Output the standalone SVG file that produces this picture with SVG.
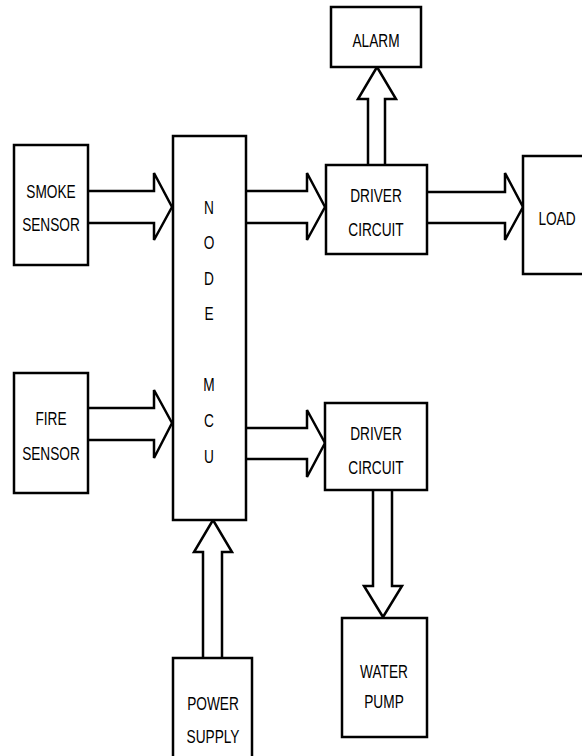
<svg xmlns="http://www.w3.org/2000/svg" width="582" height="756" viewBox="0 0 582 756">
<style>
.box{fill:#fff;stroke:#000;stroke-width:2.5}
.arr{fill:#fff;stroke:#000;stroke-width:2.5;stroke-linejoin:miter}
text{font-family:"Liberation Sans",Arial,sans-serif;font-size:19px;fill:#000;text-anchor:middle}
</style>
<rect width="582" height="756" fill="#fff"/>
<g id="connectors">
<path class="arr" d="M88,191 H154 V173 L172,207 L154,240 V223 H88"/>
<path class="arr" d="M88,408 H154 V390 L172,423 L154,458 V440 H88"/>
<path class="arr" d="M246,191 H307 V173 L325,207 L307,240 V223 H246"/>
<path class="arr" d="M246,428 H307 V410 L325,443 L307,477 V459 H246"/>
<path class="arr" d="M427,192 H505 V173 L523,207 L505,240 V223 H427"/>
<path class="arr" d="M368,165 V99 H358 L377,67 L396,99 H385 V165"/>
<path class="arr" d="M373,490 V586 H364 L383,617 L402,586 H392 V490"/>
<path class="arr" d="M203,658 V552 H194 L213,520 L232,552 H222 V658"/>
</g>
<g id="smoke"><rect class="box" x="14" y="145" width="74" height="120"/><text transform="translate(51,198) scale(0.72,1)">SMOKE</text><text transform="translate(51,231) scale(0.72,1)">SENSOR</text></g>
<g id="fire"><rect class="box" x="14" y="373" width="74" height="120"/><text transform="translate(51,425) scale(0.72,1)">FIRE</text><text transform="translate(51,460) scale(0.72,1)">SENSOR</text></g>
<g id="mcu"><rect class="box" x="173" y="136" width="73" height="384"/>
<text transform="translate(209,214) scale(0.72,1)">N</text><text transform="translate(209,249) scale(0.72,1)">O</text><text transform="translate(209,285) scale(0.72,1)">D</text><text transform="translate(209,320) scale(0.72,1)">E</text><text transform="translate(209,391) scale(0.72,1)">M</text><text transform="translate(209,427) scale(0.72,1)">C</text><text transform="translate(209,463) scale(0.72,1)">U</text></g>
<g id="driver1"><rect class="box" x="326" y="165" width="101" height="89"/><text transform="translate(376,202) scale(0.72,1)">DRIVER</text><text transform="translate(376,236) scale(0.72,1)">CIRCUIT</text></g>
<g id="alarm"><rect class="box" x="331" y="7" width="90" height="60"/><text transform="translate(376,47) scale(0.72,1)">ALARM</text></g>
<g id="load"><rect class="box" x="523" y="156" width="70" height="118"/><text transform="translate(557,225) scale(0.72,1)">LOAD</text></g>
<g id="driver2"><rect class="box" x="325" y="403" width="102" height="87"/><text transform="translate(376,440) scale(0.72,1)">DRIVER</text><text transform="translate(376,474) scale(0.72,1)">CIRCUIT</text></g>
<g id="pump"><rect class="box" x="342" y="618" width="85" height="119"/><text transform="translate(384,678) scale(0.72,1)">WATER</text><text transform="translate(384,708) scale(0.72,1)">PUMP</text></g>
<g id="power"><rect class="box" x="173" y="658" width="79" height="110"/><text transform="translate(213,710) scale(0.72,1)">POWER</text><text transform="translate(213,743) scale(0.72,1)">SUPPLY</text></g>
</svg>
